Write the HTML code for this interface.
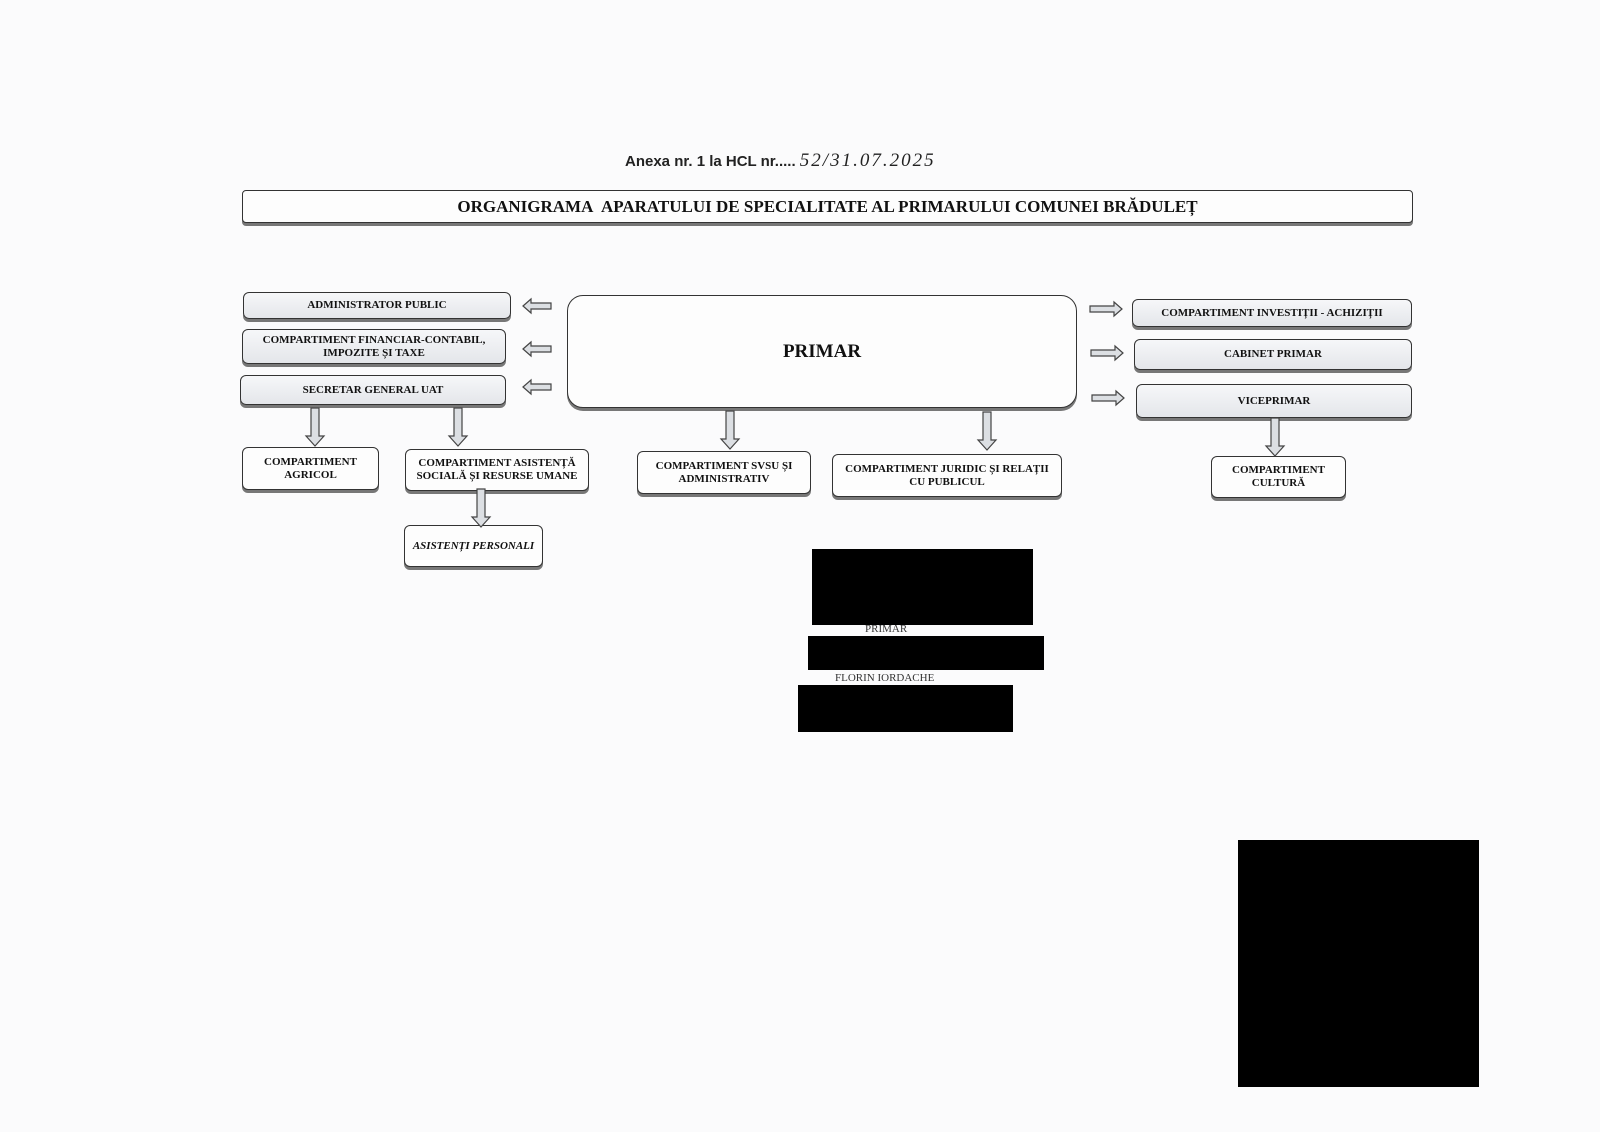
<!DOCTYPE html>
<html><head><meta charset="utf-8"><style>
body{margin:0;width:1600px;height:1132px;background:#fbfbfc;position:relative;overflow:hidden;font-family:"Liberation Serif",serif}
.b{position:absolute;box-sizing:border-box;border:1.5px solid #333;border-radius:6px;background:linear-gradient(#f6f7f9,#e4e6ea);box-shadow:0 3px 0 #777;display:flex;align-items:center;justify-content:center;text-align:center;font-weight:bold;font-size:11px;line-height:13px;color:#111}
.w{background:#fdfdfd}
.k{position:absolute;background:#000}
svg{position:absolute;left:0;top:0}
</style></head><body>
<div style="position:absolute;left:625px;top:150px;font-family:'Liberation Sans',sans-serif;font-weight:bold;font-size:15px;color:#222;white-space:nowrap">Anexa nr. 1 la HCL nr..... <i style="font-family:'Liberation Serif',serif;font-weight:normal;font-size:19px;letter-spacing:2px">52/31.07.2025</i></div>
<div class="b w" style="left:242px;top:190px;width:1171px;height:33px;border-radius:4px;font-size:17px">ORGANIGRAMA&nbsp; APARATULUI DE SPECIALITATE AL PRIMARULUI COMUNEI BRĂDULEȚ</div>
<div class="b" style="left:243px;top:292px;width:268px;height:27px">ADMINISTRATOR PUBLIC</div>
<div class="b" style="left:242px;top:329px;width:264px;height:35px">COMPARTIMENT FINANCIAR-CONTABIL,<br>IMPOZITE ȘI TAXE</div>
<div class="b" style="left:240px;top:375px;width:266px;height:30px">SECRETAR GENERAL UAT</div>
<div class="b w" style="left:567px;top:295px;width:510px;height:113px;border-radius:16px;font-size:19px">PRIMAR</div>
<div class="b" style="left:1132px;top:299px;width:280px;height:28px">COMPARTIMENT INVESTIȚII - ACHIZIȚII</div>
<div class="b" style="left:1134px;top:339px;width:278px;height:31px">CABINET PRIMAR</div>
<div class="b" style="left:1136px;top:384px;width:276px;height:34px">VICEPRIMAR</div>
<div class="b w" style="left:242px;top:447px;width:137px;height:43px">COMPARTIMENT<br>AGRICOL</div>
<div class="b w" style="left:405px;top:449px;width:184px;height:42px">COMPARTIMENT ASISTENȚĂ<br>SOCIALĂ ȘI RESURSE UMANE</div>
<div class="b w" style="left:637px;top:451px;width:174px;height:43px">COMPARTIMENT SVSU ȘI<br>ADMINISTRATIV</div>
<div class="b w" style="left:832px;top:454px;width:230px;height:43px">COMPARTIMENT JURIDIC ȘI RELAȚII<br>CU PUBLICUL</div>
<div class="b w" style="left:1211px;top:456px;width:135px;height:42px">COMPARTIMENT<br>CULTURĂ</div>
<div class="b w" style="left:404px;top:525px;width:139px;height:42px;font-style:italic">ASISTENȚI PERSONALI</div>
<svg width="1600" height="1132">
<defs>
<g id="l"><polygon points="0,0 8,-7 8,-3 28,-3 28,3 8,3 8,7" fill="#dcdfe3" stroke="#444" stroke-width="1.2"/></g>
<g id="r"><polygon points="0,-3 24,-3 24,-7 32,0 24,7 24,3 0,3" fill="#dcdfe3" stroke="#444" stroke-width="1.2"/></g>
<g id="d"><polygon points="-4,0 4,0 4,28 9,28 0,38 -9,28 -4,28" fill="#dcdfe3" stroke="#444" stroke-width="1.2"/></g>
</defs>
<use href="#l" x="523" y="306"/><use href="#l" x="523" y="349"/><use href="#l" x="523" y="387"/>
<use href="#r" x="1090" y="309"/><use href="#r" x="1091" y="353"/><use href="#r" x="1092" y="398"/>
<use href="#d" x="315" y="408"/><use href="#d" x="458" y="408"/><use href="#d" x="730" y="411"/><use href="#d" x="987" y="412"/><use href="#d" x="1275" y="418"/><use href="#d" x="481" y="489"/>
</svg>
<div style="position:absolute;left:865px;top:623px;font-size:11px;color:#333">PRIMAR</div>
<div style="position:absolute;left:835px;top:672px;font-size:11px;color:#333">FLORIN IORDACHE</div>
<div class="k" style="left:812px;top:549px;width:221px;height:76px"></div>
<div class="k" style="left:808px;top:636px;width:236px;height:34px"></div>
<div class="k" style="left:798px;top:685px;width:215px;height:47px"></div>
<div class="k" style="left:1238px;top:840px;width:241px;height:247px"></div>
</body></html>
